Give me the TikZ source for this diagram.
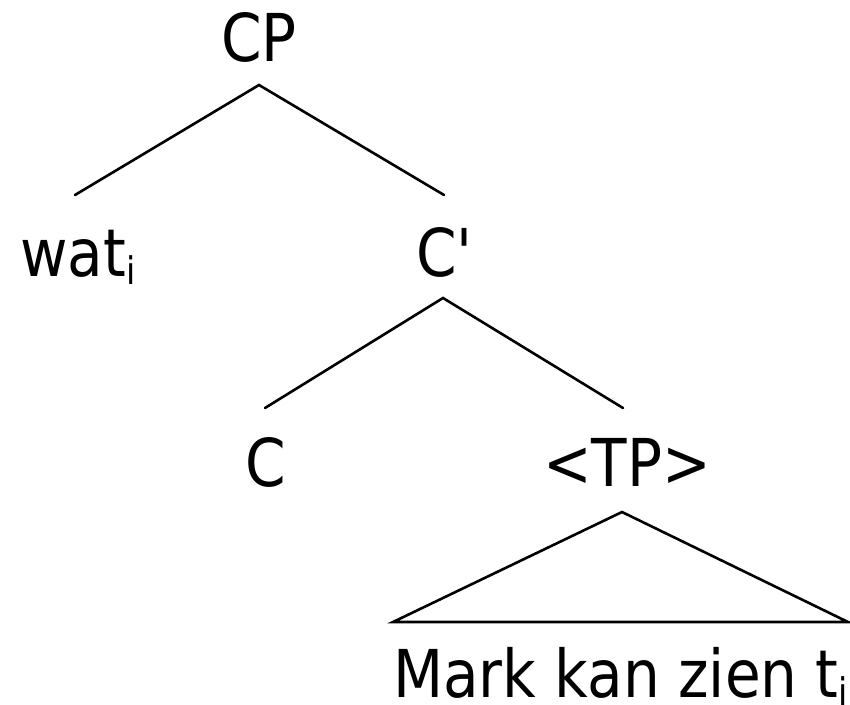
\documentclass[tikz,border=0pt]{standalone}
\usepackage{fontspec}
\setmainfont[FakeStretch=0.88]{DejaVu Sans}
\newcommand{\subi}{\raisebox{-0.13em}{\fontsize{38}{38}\selectfont i}}
\begin{document}
\begin{tikzpicture}[x=1pt,y=-1pt,
  lbl/.style={inner sep=0pt,anchor=base,font=\fontsize{66}{66}\selectfont},
  edge/.style={line width=2.6pt,line cap=round,line join=miter}]
\useasboundingbox (0,0) rectangle (850,704);
\fill[white] (0,0) rectangle (850,704);
% labels
\node[lbl] (cp) at (259,61) {CP};
\node[lbl,anchor=base west] (wat) at (20,276) {wat\subi};
\node[lbl,anchor=base west] (cbar) at (416,276) {C\textquotesingle};
\node[lbl,anchor=base west] (c) at (245,486) {C};
\node[lbl,anchor=base west] (tp) at (543,486) {<TP>};
\node[lbl,anchor=base west] (mark) at (393,697) {Mark kan zien t\subi};
% branching points
\coordinate (cpT) at (259,85);
\coordinate (watT) at (75,195);
\coordinate (cbarT) at (444,195);
\coordinate (cbarB) at (443,298);
\coordinate (cT) at (265,408);
\coordinate (tpT) at (623,408);
\coordinate (tpB) at (622,512);
\coordinate (triL) at (393,622);
\coordinate (triR) at (848,622);
\draw[edge] (watT) -- (cpT) -- (cbarT);
\draw[edge] (cT) -- (cbarB) -- (tpT);
\draw[edge] (tpB) -- (triL) -- (triR) -- cycle;
\end{tikzpicture}
\end{document}
